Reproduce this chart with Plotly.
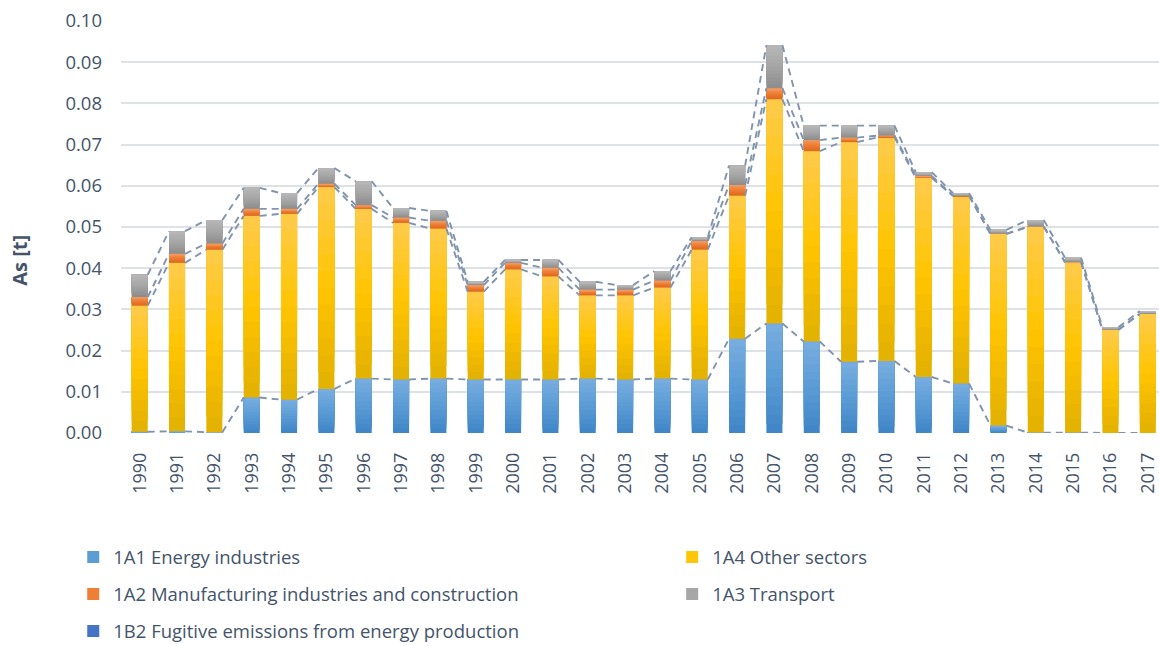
import plotly.graph_objects as go

# Arsenic emissions by source category, tonnes
years = [1990, 1991, 1992, 1993, 1994, 1995, 1996, 1997, 1998, 1999,
         2000, 2001, 2002, 2003, 2004, 2005, 2006, 2007, 2008, 2009,
         2010, 2011, 2012, 2013, 2014, 2015, 2016, 2017]

energy_1a1 = [0.0003, 0.0004, 0.0002, 0.0086, 0.0081, 0.0107, 0.0132, 0.0130, 0.0132, 0.0130,
              0.0130, 0.0130, 0.0132, 0.0130, 0.0132, 0.0130, 0.0229, 0.0266, 0.0222, 0.0173,
              0.0175, 0.0136, 0.0120, 0.0018, 0.0001, 0.0001, 0.0000, 0.0000]

other_1a4 = [0.0306, 0.0409, 0.0443, 0.0441, 0.0451, 0.0490, 0.0412, 0.0380, 0.0364, 0.0213,
             0.0267, 0.0250, 0.0202, 0.0204, 0.0221, 0.0315, 0.0347, 0.0544, 0.0462, 0.0533,
             0.0543, 0.0483, 0.0455, 0.0465, 0.0499, 0.0413, 0.0250, 0.0289]

manuf_1a2 = [0.0021, 0.0022, 0.0015, 0.0017, 0.0012, 0.0008, 0.0009, 0.0013, 0.0019, 0.0016,
             0.0016, 0.0021, 0.0014, 0.0014, 0.0017, 0.0021, 0.0026, 0.0027, 0.0027, 0.0011,
             0.0004, 0.0005, 0.0001, 0.0001, 0.0001, 0.0001, 0.0001, 0.0000]

transport_1a3 = [0.0054, 0.0055, 0.0057, 0.0051, 0.0038, 0.0038, 0.0058, 0.0023, 0.0024, 0.0008,
                 0.0007, 0.0019, 0.0019, 0.0011, 0.0023, 0.0009, 0.0047, 0.0104, 0.0035, 0.0029,
                 0.0024, 0.0009, 0.0006, 0.0009, 0.0016, 0.0010, 0.0006, 0.0007]

fugitive_1b2 = [0.0, 0.0, 0.0, 0.0, 0.0, 0.0, 0.0, 0.0, 0.0, 0.0,
                0.0, 0.0, 0.0, 0.0, 0.0, 0.0, 0.0, 0.0, 0.0, 0.0,
                0.0, 0.0, 0.0, 0.0, 0.0, 0.0, 0.0, 0.0]

y_ticks = [0.00, 0.01, 0.02, 0.03, 0.04, 0.05, 0.06, 0.07, 0.08, 0.09, 0.10]

TEXT = "#44546A"
FONT = "Open Sans"
BAR_W = 0.43
SLICES = 12

# stacking order (bottom to top) with vertical gradient stops: bottom, middle, top
series = [
    ("1A1 Energy industries", energy_1a1, ["#3F85C6", "#5B9BD5", "#78AEE0"], "legend"),
    ("1A4 Other sectors", other_1a4, ["#E2B000", "#FFC400", "#FFCB4C"], "legend2"),
    ("1A2 Manufacturing industries and construction", manuf_1a2, ["#DD6620", "#ED7D31", "#F39A62"], "legend"),
    ("1A3 Transport", transport_1a3, ["#8C8C8C", "#A5A5A5", "#B8B8B8"], "legend2"),
    ("1B2 Fugitive emissions from energy production", fugitive_1b2, ["#3563B5", "#4472C4", "#5D88D3"], "legend"),
]


def hex_rgb(h):
    h = h.lstrip("#")
    return [int(h[i:i + 2], 16) for i in (0, 2, 4)]


def grad(stops, t):
    if t <= 0.5:
        a, b, f = hex_rgb(stops[0]), hex_rgb(stops[1]), t / 0.5
    else:
        a, b, f = hex_rgb(stops[1]), hex_rgb(stops[2]), (t - 0.5) / 0.5
    c = [round(a[i] + (b[i] - a[i]) * f) for i in range(3)]
    return "rgb(%d,%d,%d)" % tuple(c)


xpos = list(range(len(years)))
fig = go.Figure()

# each segment is painted as overlapping layers, every layer running from its
# own start up to the segment top, so the vertical shading has no seams
base = [0.0] * len(years)
tops = []
for name, vals, stops, leg in series:
    for k in range(SLICES):
        lo = [b + v * k / SLICES for b, v in zip(base, vals)]
        hs = [v * (SLICES - k) / SLICES for v in vals]
        fig.add_trace(go.Bar(
            x=xpos, y=hs, base=lo, width=BAR_W,
            marker=dict(color=grad(stops, (k + 0.5) / SLICES), line=dict(width=0)),
            name=name, legendgroup=name, legend=leg,
            showlegend=(k == SLICES // 2),
            hoverinfo="skip",
        ))
    base = [b + v for b, v in zip(base, vals)]
    tops.append(list(base))

# series lines joining the top of each segment between neighbouring bars
for top in tops[:4]:
    lx, ly = [], []
    for i in range(len(years) - 1):
        lx += [xpos[i] + BAR_W / 2, xpos[i + 1] - BAR_W / 2, None]
        ly += [top[i], top[i + 1], None]
    fig.add_trace(go.Scatter(
        x=lx, y=ly, mode="lines",
        line=dict(color="#8094AE", width=1.9, dash="7px,5px"),
        showlegend=False, hoverinfo="skip",
    ))

legend_common = dict(
    orientation="v", yanchor="top", xanchor="left",
    font=dict(family=FONT, size=18.5, color=TEXT),
    bgcolor="rgba(0,0,0,0)", tracegroupgap=10, itemwidth=30,
)

fig.update_layout(
    width=1159, height=646,
    margin=dict(l=121, r=0, t=21, b=213, autoexpand=False),
    paper_bgcolor="white", plot_bgcolor="white",
    barmode="overlay",
    font=dict(family=FONT, color=TEXT),
    xaxis=dict(
        range=[-0.5, 27.3], automargin=False,
        tickvals=xpos, ticktext=[str(y) for y in years],
        tickangle=-90, tickfont=dict(family=FONT, size=18, color=TEXT),
        showgrid=False, zeroline=False, showline=False, ticks="",
        ticklabelstandoff=15,
    ),
    yaxis=dict(
        range=[0, 0.1], tickvals=y_ticks, tickformat=".2f", automargin=False,
        tickfont=dict(family=FONT, size=18.5, color=TEXT),
        showgrid=True, gridcolor="#DEE2E7", gridwidth=1.5,
        zeroline=False, showline=False, ticks="",
        ticklabelstandoff=18,
    ),
    legend=dict(x=-0.046, y=-0.256, **legend_common),
    legend2=dict(x=0.531, y=-0.256, **legend_common),
    annotations=[dict(
        text="<b>As [t]</b>", xref="paper", yref="paper",
        x=-0.0975, y=0.42, xanchor="center", yanchor="middle",
        textangle=-90, showarrow=False,
        font=dict(family=FONT, size=20, color=TEXT),
    )],
)

fig.write_html("out.html")
